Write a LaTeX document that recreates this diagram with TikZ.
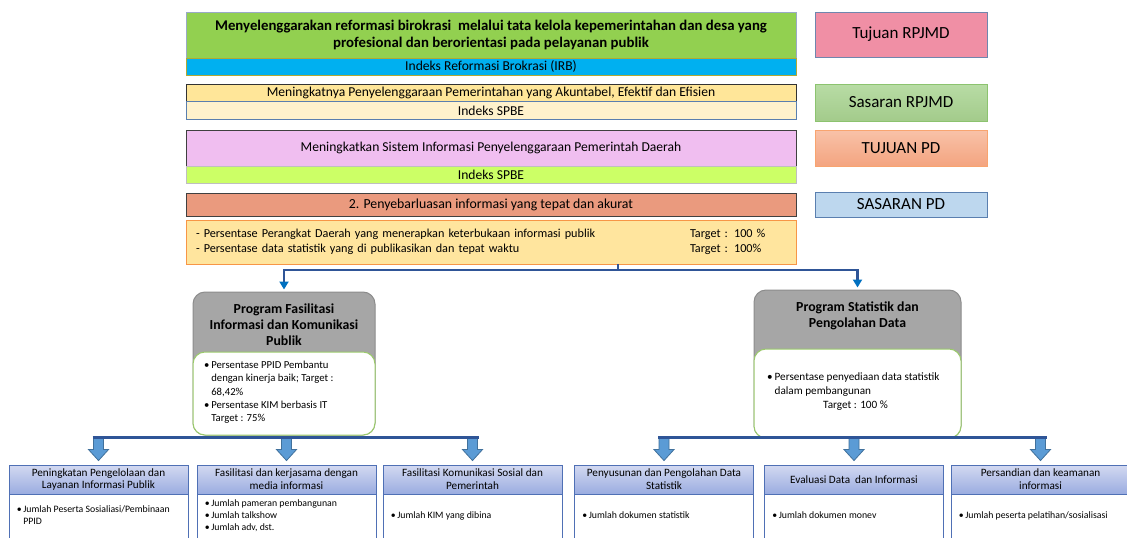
\documentclass[tikz,border=0pt]{standalone}
\usepackage{fontspec}
\setmainfont{Carlito}
\usetikzlibrary{positioning, calc, arrows.meta}
\definecolor{TujuanGreen}{HTML}{92D050}
\definecolor{IrbBlue}{HTML}{00B0F0}
\definecolor{SasaranGold}{HTML}{FFE699}
\definecolor{SasaranCream}{HTML}{FFF2CC}
\definecolor{TujuanOrchid}{HTML}{F0BEF0}
\definecolor{IndLime}{HTML}{CCFF66}
\definecolor{SasaranSalmon}{HTML}{EA9A7E}
\definecolor{IndOrange}{HTML}{FFE59E}
\definecolor{IndOrangeLine}{HTML}{F79646}
\definecolor{RpjmdPink}{HTML}{F08FA5}
\definecolor{RpjmdPinkLine}{HTML}{6F86AE}
\definecolor{RpjmdGreenTop}{HTML}{B8DCA5}
\definecolor{RpjmdGreenBot}{HTML}{A3CB8B}
\definecolor{RpjmdGreenLine}{HTML}{8CC36F}
\definecolor{PdOrangeTop}{HTML}{F8C2A8}
\definecolor{PdOrangeBot}{HTML}{F4A480}
\definecolor{PdOrangeLine}{HTML}{F8A46F}
\definecolor{PdBlue}{HTML}{BDD7EE}
\definecolor{PdBlueLine}{HTML}{5A7FAF}
\definecolor{ProgGray}{HTML}{A6A6A6}
\definecolor{ProgGrayLine}{HTML}{8C8C8C}
\definecolor{BodyGreen}{HTML}{9ACA6A}
\definecolor{KegTop}{HTML}{D3D9F1}
\definecolor{KegBot}{HTML}{9AACE0}
\definecolor{KegLine}{HTML}{4F70B5}
\definecolor{BusBlue}{HTML}{2F5597}
\definecolor{ArrowBlue}{HTML}{0070C0}
\definecolor{BlockFill}{HTML}{5B9BD5}
\definecolor{BlockLine}{HTML}{41719C}

\tikzset{
  bar/.style={draw=#1, rectangle, inner sep=0pt, align=center, line width=0.9pt, minimum width=610pt,
    font=\fontsize{13.6}{15}\selectfont},
  legend/.style={draw=#1, rectangle, inner sep=0pt, line width=1pt, minimum width=172pt, font=\fontsize{17}{20}\selectfont},
  progframe/.style={draw=ProgGrayLine, fill=ProgGray, rounded corners=12pt, line width=1pt},
  progbody/.style={draw=BodyGreen, fill=white, rounded corners=12pt, line width=1pt},
  proghead/.style={font=\bfseries\fontsize{13.8}{16}\selectfont, align=center, inner sep=0pt},
  progtext/.style={font=\fontsize{10.7}{13.3}\selectfont, align=left, inner sep=0pt},
  keghead/.style={draw=KegLine, top color=KegTop, bottom color=KegBot, line width=0.9pt, inner sep=0pt,
    minimum width=179pt, minimum height=29pt, align=center, font=\fontsize{11.2}{12.8}\selectfont},
  kegbody/.style={draw=KegLine, fill=white, line width=0.9pt, minimum width=179pt, minimum height=60pt},
  kegtext/.style={font=\fontsize{9.8}{12}\selectfont, align=left, inner sep=0pt},
  bus/.style={draw=BusBlue, line width=3pt},
  feed/.style={draw=BusBlue, line width=2.5pt, -{Triangle[width=9pt,length=8pt,color=ArrowBlue]}, shorten >=2pt},
  blockarrow/.style={fill=BlockFill, draw=BlockLine, line width=0.8pt}
}
% block arrow from the bus down to a header
\newcommand{\kegarrow}[2]{%
  \draw[blockarrow] ($(#1)+(-5,0)$) -- ($(#2)+(-5,-11)$) -- ($(#2)+(-10,-11)$) -- (#2)
    -- ($(#2)+(10,-11)$) -- ($(#2)+(5,-11)$) -- ($(#1)+(5,0)$) -- cycle;}

\begin{document}
\begin{tikzpicture}[x=1pt, y=-1pt]
  \clip (0,0) rectangle (1127,538);
  \fill[white] (0,0) rectangle (1127,538);

  % Tujuan dan sasaran
  \node[bar=RpjmdPinkLine!70, fill=TujuanGreen, minimum height=46pt, font=\bfseries\fontsize{14.8}{17}\selectfont] (tujuan) at (491,35)
    {Menyelenggarakan reformasi birokrasi \ melalui tata kelola kepemerintahan dan desa yang\\profesional dan berorientasi pada pelayanan publik};
  \node[bar=olive!70, fill=IrbBlue, minimum height=17pt] (irb) at (491,66.5) {Indeks Reformasi Brokrasi (IRB)};
  \node[bar=black!80, fill=SasaranGold, minimum height=17pt] (sasaran) at (491,93)
    {Meningkatnya Penyelenggaraan Pemerintahan yang Akuntabel, Efektif dan Efisien};
  \node[bar=PdBlueLine, fill=SasaranCream, minimum height=18pt] (spbe) at (491,110.5) {Indeks SPBE};
  \node[bar=black!75, fill=TujuanOrchid, minimum height=36pt] (tujuanpd) at (491,148)
    {Meningkatkan Sistem Informasi Penyelenggaraan Pemerintah Daerah};
  \node[bar=black!25, fill=IndLime, minimum height=17pt] (spbepd) at (491,175) {Indeks SPBE};
  \node[bar=black!75, fill=SasaranSalmon, minimum height=23pt, font=\fontsize{13.8}{15}\selectfont] (sasaranpd) at (491,204.5)
    {2. Penyebarluasan informasi yang tepat dan akurat};
  \node[bar=IndOrangeLine, fill=IndOrange, minimum height=44pt, text width=590pt, align=left, font=\fontsize{12.2}{15}\selectfont] (indpd) at (491,242)
    {\begin{tabular}{@{}p{494pt}@{}l@{}}
      - Persentase Perangkat Daerah yang menerapkan keterbukaan informasi publik & Target : 100 \%\\
      - Persentase data statistik yang di publikasikan dan tepat waktu & Target : 100\%
    \end{tabular}};

  % Keterangan
  \node[legend=RpjmdPinkLine, fill=RpjmdPink, minimum height=45pt] (lgtujuan) at (901,34.5) {Tujuan RPJMD};
  \node[legend=RpjmdGreenLine, top color=RpjmdGreenTop, bottom color=RpjmdGreenBot, minimum height=37pt] (lgsasaran) at (901,102.5) {Sasaran RPJMD};
  \node[legend=PdOrangeLine, top color=PdOrangeTop, bottom color=PdOrangeBot, minimum height=36pt] (lgtujuanpd) at (901,148) {TUJUAN PD};
  \node[legend=PdBlueLine, fill=PdBlue, minimum height=25pt] (lgsasaranpd) at (901,204.5) {SASARAN PD};

  % Program
  \node[progframe, minimum width=182pt, minimum height=143pt] (progA) at (284,363.5) {};
  \node[progbody, minimum width=182pt, minimum height=83pt] (progAbody) at (284,393.5) {};
  \node[proghead] (progAhead) at (284,325) {Program Fasilitasi\\Informasi dan Komunikasi\\Publik};
  \node[progtext, anchor=north west] (progAtext) at (204,361)
    {\textbullet\,Persentase PPID Pembantu\\\phantom{\textbullet\,}dengan kinerja baik; Target :\\\phantom{\textbullet\,}68,42\%\\
     \textbullet\,Persentase KIM berbasis IT\\\phantom{\textbullet\,}Target : 75\%};

  \node[progframe, minimum width=207pt, minimum height=148pt] (progB) at (857.5,364) {};
  \node[progbody, minimum width=207pt, minimum height=89pt] (progBbody) at (857.5,393.5) {};
  \node[proghead] (progBhead) at (857.5,316) {Program Statistik dan\\Pengolahan Data};
  \node[progtext, anchor=north west, font=\fontsize{11.2}{13.8}\selectfont] (progBtext) at (767,373)
    {\textbullet\,Persentase penyediaan data statistik\\\phantom{\textbullet\,}dalam pembangunan\\\hspace*{56pt}Target : 100 \%};

  % Alur dari sasaran ke program
  \coordinate (split) at (618,270);
  \draw[bus, line width=2.5pt] (indpd.south -| split) -- (split);
  \draw[feed] (split) -| (progA.north);
  \draw[feed] (split) -| (progB.north);

  % Kegiatan
  \node[keghead] (kegA1) at (98.5,479.5) {Peningkatan Pengelolaan dan\\Layanan Informasi Publik};
  \node[keghead] (kegA2) at (286.5,479.5) {Fasilitasi dan kerjasama dengan\\media informasi};
  \node[keghead] (kegA3) at (472.5,479.5) {Fasilitasi Komunikasi Sosial dan\\Pemerintah};
  \node[keghead] (kegB1) at (664,479.5) {Penyusunan dan Pengolahan Data\\Statistik};
  \node[keghead] (kegB2) at (854,479.5) {Evaluasi Data \ dan Informasi};
  \node[keghead] (kegB3) at (1040.5,479.5) {Persandian dan keamanan\\informasi};
  \foreach \k in {kegA1,kegA2,kegA3,kegB1,kegB2,kegB3}
    \node[kegbody, anchor=north] (\k body) at (\k.south) {};

  \node[kegtext, below right=11pt and 8pt of kegA1body.north west] (kegA1text)
    {\textbullet\,Jumlah Peserta Sosialiasi/Pembinaan\\\phantom{\textbullet\,}PPID};
  \node[kegtext, below right=5pt and 8pt of kegA2body.north west] (kegA2text)
    {\textbullet\,Jumlah pameran pembangunan\\\textbullet\,Jumlah talkshow\\\textbullet\,Jumlah adv, dst.};
  \node[kegtext, below right=17pt and 8pt of kegA3body.north west] (kegA3text) {\textbullet\,Jumlah KIM yang dibina};
  \node[kegtext, below right=17pt and 8pt of kegB1body.north west] (kegB1text) {\textbullet\,Jumlah dokumen statistik};
  \node[kegtext, below right=17pt and 8pt of kegB2body.north west] (kegB2text) {\textbullet\,Jumlah dokumen monev};
  \node[kegtext, below right=17pt and 8pt of kegB3body.north west] (kegB3text) {\textbullet\,Jumlah peserta pelatihan/sosialisasi};

  % Alur dari program ke kegiatan
  \coordinate (busA) at ($(progA.south)+(0,2)$);
  \coordinate (busB) at ($(progB.south)+(0,-1)$);
  \foreach \k in {kegA1,kegA2,kegA3}
    \kegarrow{\k.north |- busA}{$(\k.north)+(0,-4)$};
  \foreach \k in {kegB1,kegB2,kegB3}
    \kegarrow{\k.north |- busB}{$(\k.north)+(0,-4)$};
  \draw[bus] ([xshift=-6pt]kegA1.north |- busA) -- ([xshift=6pt]kegA3.north |- busA);
  \draw[bus] ([xshift=-6pt]kegB1.north |- busB) -- ([xshift=6pt]kegB3.north |- busB);
\end{tikzpicture}
\end{document}
